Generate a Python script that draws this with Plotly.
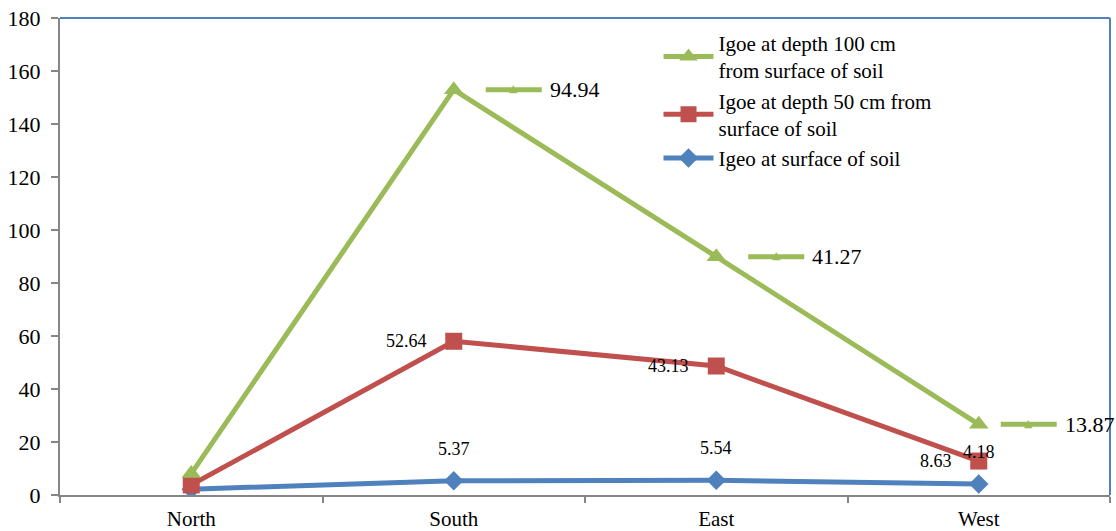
import numpy as np
import plotly.graph_objects as go

categories = ["North", "South", "East", "West"]
igeo_surface = [2.2, 5.37, 5.54, 4.18]
igoe_50cm = [1.6, 52.64, 43.13, 8.63]
igoe_100cm = [4.3, 94.94, 41.27, 13.87]
y_ticks = list(range(0, 181, 20))

names = ["Igeo at surface of soil",
         "Igoe at depth 50 cm from<br>surface of soil",
         "Igoe at depth 100 cm<br>from surface of soil"]
colors = ["#4F81BD", "#C0504D", "#9BBB59"]
symbols = ["diamond", "square", "triangle-up"]
msizes = [15, 17, 17]

series = [np.array(igeo_surface), np.array(igoe_50cm), np.array(igoe_100cm)]
stacked = np.cumsum(np.vstack(series), axis=0)

FONT = "Liberation Serif"

fig = go.Figure()
for i in range(3):
    fig.add_trace(go.Scatter(
        x=categories, y=stacked[i], name=names[i], mode="lines+markers",
        line=dict(color=colors[i], width=5),
        marker=dict(symbol=symbols[i], size=msizes[i], color=colors[i]),
    ))

annotations = []
shapes = []
# blue labels above
for j in range(1, 4):
    annotations.append(dict(x=categories[j], y=stacked[0][j], xref="x", yref="y",
                            text=f"{igeo_surface[j]:.2f}", showarrow=False,
                            yshift=32, font=dict(family=FONT, size=18, color="#000")))
# red labels left
for j in range(1, 4):
    annotations.append(dict(x=categories[j], y=stacked[1][j], xref="x", yref="y",
                            text=f"{igoe_50cm[j]:.2f}", showarrow=False,
                            xanchor="right", xshift=-25,
                            font=dict(family=FONT, size=18, color="#000")))
# green labels right with legend key
key_offsets = {1: 32, 2: 32, 3: 22}
for j in range(1, 4):
    off = key_offsets[j]
    yv = stacked[2][j]
    shapes.append(dict(type="line", xref="x", yref="y", xsizemode="pixel",
                       xanchor=categories[j], x0=off, x1=off + 56,
                       y0=yv, y1=yv, line=dict(color=colors[2], width=5),
                       layer="above"))
    annotations.append(dict(x=categories[j], y=yv, xref="x", yref="y",
                            text="▲", showarrow=False, xshift=off + 28, yshift=1,
                            font=dict(family="DejaVu Sans", size=11, color=colors[2])))
    annotations.append(dict(x=categories[j], y=yv, xref="x", yref="y",
                            text=f"{igoe_100cm[j]:.2f}", showarrow=False,
                            xanchor="left", xshift=off + 62,
                            font=dict(family=FONT, size=22, color="#000")))

# top and right plot border (blue)
shapes.append(dict(type="line", xref="paper", yref="paper", x0=0, x1=1, y0=1, y1=1,
                   line=dict(color="#4F81BD", width=2)))
shapes.append(dict(type="line", xref="paper", yref="paper", x0=1, x1=1, y0=0, y1=1,
                   line=dict(color="#4F81BD", width=2)))

fig.update_layout(
    width=1116, height=531,
    margin=dict(l=60, r=6, t=18, b=36, autoexpand=False),
    paper_bgcolor="white", plot_bgcolor="white",
    font=dict(family=FONT, size=21, color="#000"),
    showlegend=True,
    legend=dict(x=0.57, y=0.99, xanchor="left", yanchor="top",
                traceorder="reversed", bgcolor="rgba(255,255,255,0)",
                font=dict(family=FONT, size=21, color="#000"),
                itemwidth=50, tracegroupgap=0),
    xaxis=dict(type="category", categoryorder="array", categoryarray=categories,
               range=[-0.5, 3.5], showline=True, linecolor="#868686", linewidth=2,
               ticks="outside", tickson="boundaries", ticklen=6, tickcolor="#868686",
               tickwidth=1.5, showgrid=False, zeroline=False, automargin=False,
               ticklabelstandoff=4,
               tickfont=dict(family=FONT, size=21)),
    yaxis=dict(range=[0, 180], tickvals=y_ticks, showline=True, linecolor="#868686",
               linewidth=2, ticks="outside", ticklen=7, tickcolor="#868686",
               tickwidth=1.5, showgrid=False, zeroline=False, automargin=False,
               ticklabelstandoff=6,
               tickfont=dict(family=FONT, size=22)),
    annotations=annotations, shapes=shapes,
)

fig.write_html("out.html", config={"displayModeBar": False},
               post_script="document.body.style.margin='0';document.body.style.overflow='hidden';")
